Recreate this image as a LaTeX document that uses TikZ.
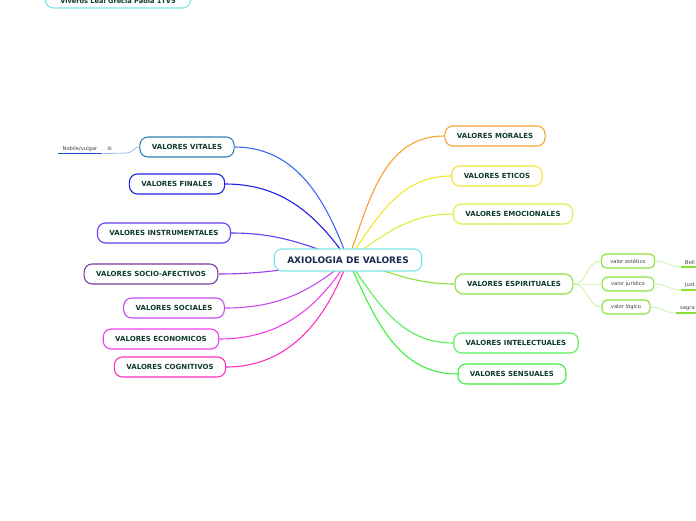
\documentclass[tikz,border=0pt]{standalone}
\usepackage{fontspec}
\setmainfont{DejaVu Sans}
\usetikzlibrary{positioning,backgrounds}
\definecolor{txt}{HTML}{0E3B2C}
\definecolor{txtc}{HTML}{1B2A4E}
\definecolor{cCen}{HTML}{7FE3E3}
\definecolor{cVitB}{HTML}{2E80B5}
\definecolor{cVit}{HTML}{3A6AF0}
\definecolor{cFin}{HTML}{2020E4}
\definecolor{cIns}{HTML}{6A3CF0}
\definecolor{cSafB}{HTML}{7A3A9E}
\definecolor{cSaf}{HTML}{9A40F0}
\definecolor{cSoc}{HTML}{C64CEC}
\definecolor{cEco}{HTML}{F040EC}
\definecolor{cCog}{HTML}{FF30C0}
\definecolor{cMor}{HTML}{F8A030}
\definecolor{cEti}{HTML}{F3E430}
\definecolor{cEmo}{HTML}{D8F040}
\definecolor{cEsp}{HTML}{8EE03A}
\definecolor{cInt}{HTML}{5AF05A}
\definecolor{cSen}{HTML}{3CEF3C}
\definecolor{cSub}{HTML}{C8F5A0}
\definecolor{cNob}{HTML}{1F4FD0}
\definecolor{cNobL}{HTML}{9AB8F0}

\begin{document}
\begin{tikzpicture}[x=1pt,y=1pt,
  topic/.style={draw, fill=white, rounded corners=8pt, line width=1.1pt,
    minimum height=20pt, inner xsep=12pt, inner ysep=0pt, text=txt,
    font=\fontsize{7}{8}\selectfont\bfseries},
  central/.style={topic, draw=cCen, minimum height=22pt, inner xsep=13pt,
    text=txtc, font=\fontsize{9}{10}\selectfont\bfseries},
  subtopic/.style={draw=cEsp, fill=white, rounded corners=5pt, line width=1.1pt,
    minimum height=14pt, inner xsep=9pt, inner ysep=0pt, text=black!75,
    font=\fontsize{5.2}{6}\selectfont},
  leaf/.style={inner xsep=4pt, inner ysep=2pt, text=black!75,
    font=\fontsize{5.2}{6}\selectfont},
  edge/.style={line width=1.1pt, #1}]
  \useasboundingbox (0,0) rectangle (696,520);
  % Central topic
  \node[central] (cen) at (348,260) {AXIOLOGIA DE VALORES};
  % Left branches
  \node[topic, draw=cVitB] (vit) at (187,373) {VALORES VITALES};
  \node[topic, draw=cFin] (fin) at (177,336) {VALORES FINALES};
  \node[topic, draw=cIns] (ins) at (164,287) {VALORES INSTRUMENTALES};
  \node[topic, draw=cSafB] (saf) at (151,246) {VALORES SOCIO-AFECTIVOS};
  \node[topic, draw=cSoc] (soc) at (174,212) {VALORES SOCIALES};
  \node[topic, draw=cEco] (eco) at (161,181) {VALORES ECONOMICOS};
  \node[topic, draw=cCog] (cog) at (170,153) {VALORES COGNITIVOS};
  % Right branches
  \node[topic, draw=cMor] (mor) at (495,384) {VALORES MORALES};
  \node[topic, draw=cEti] (eti) at (497,344) {VALORES ETICOS};
  \node[topic, draw=cEmo] (emo) at (513,306) {VALORES EMOCIONALES};
  \node[topic, draw=cEsp] (esp) at (514,236) {VALORES ESPIRITUALES};
  \node[topic, draw=cInt] (int) at (516,177) {VALORES INTELECTUALES};
  \node[topic, draw=cSen] (sen) at (512,146) {VALORES SENSUALES};
  % Subtopics of ESPIRITUALES
  \node[subtopic] (vest) at (628,259) {valor estético};
  \node[subtopic] (vjur) at (628,236) {valor jurídico};
  \node[subtopic] (vlog) at (626,213) {valor lógico};
  \node[leaf, anchor=south west] (bel) at (681,253) {Bell};
  \node[leaf, anchor=south west] (jus) at (681,230) {Just};
  \node[leaf, anchor=south west] (sag) at (676,207) {sagra};
  % Leaf of VITALES
  \node[leaf] (nob) at (80,371) {Nobile/vulgar};
  \node[font=\fontsize{6}{6}\selectfont, text=black!70, right=2pt of nob] (ico) {≡};
  \coordinate (nobend) at (127,367);
  % Floating topic
  \node[topic, draw=cCen, minimum width=145pt, minimum height=14pt,
    font=\fontsize{6.6}{7}\selectfont\bfseries] (viv) at (118,519)
    {Viveros Leal Grecia Paola 1TV5};
  % Connectors
  \begin{scope}[on background layer]
    \draw[edge=cVit] (cen.center) to[out=110,in=0] (vit.east);
    \draw[edge=cFin] (cen.center) to[out=125,in=0] (fin.east);
    \draw[edge=cIns] (cen.center) to[out=160,in=0] (ins.east);
    \draw[edge=cSaf] (cen.center) to[out=188,in=0] (saf.east);
    \draw[edge=cSoc] (cen.center) to[out=220,in=0] (soc.east);
    \draw[edge=cEco] (cen.center) to[out=238,in=0] (eco.east);
    \draw[edge=cCog] (cen.center) to[out=250,in=0] (cog.east);
    \draw[edge=cMor] (cen.center) to[out=70,in=180] (mor.west);
    \draw[edge=cEti] (cen.center) to[out=55,in=180] (eti.west);
    \draw[edge=cEmo] (cen.center) to[out=35,in=180] (emo.west);
    \draw[edge=cEsp] (cen.center) to[out=-15,in=180] (esp.west);
    \draw[edge=cInt] (cen.center) to[out=-55,in=180] (int.west);
    \draw[edge=cSen] (cen.center) to[out=-65,in=180] (sen.west);
  \end{scope}
  \draw[line width=0.8pt, cSub] (esp.east) to[out=0,in=180] (vest.west);
  \draw[line width=0.8pt, cSub] (esp.east) to[out=0,in=180] (vjur.west);
  \draw[line width=0.8pt, cSub] (esp.east) to[out=0,in=180] (vlog.west);
  \draw[line width=0.8pt, cSub] (vest.east) to[out=0,in=180] (bel.south west);
  \draw[line width=0.8pt, cSub] (vjur.east) to[out=0,in=180] (jus.south west);
  \draw[line width=0.8pt, cSub] (vlog.east) to[out=0,in=180] (sag.south west);
  \draw[line width=1.3pt, cEsp] (bel.south west) -- (bel.south east);
  \draw[line width=1.3pt, cEsp] (jus.south west) -- (jus.south east);
  \draw[line width=1.3pt, cEsp] (sag.south west) -- (sag.south east);
  \draw[line width=1.4pt, cNob] (nob.south west) -- (nob.south east);
  \draw[line width=0.8pt, cNobL] (nob.south east) -- (nobend)
    to[out=0,in=180] (vit.west);
\end{tikzpicture}
\end{document}
